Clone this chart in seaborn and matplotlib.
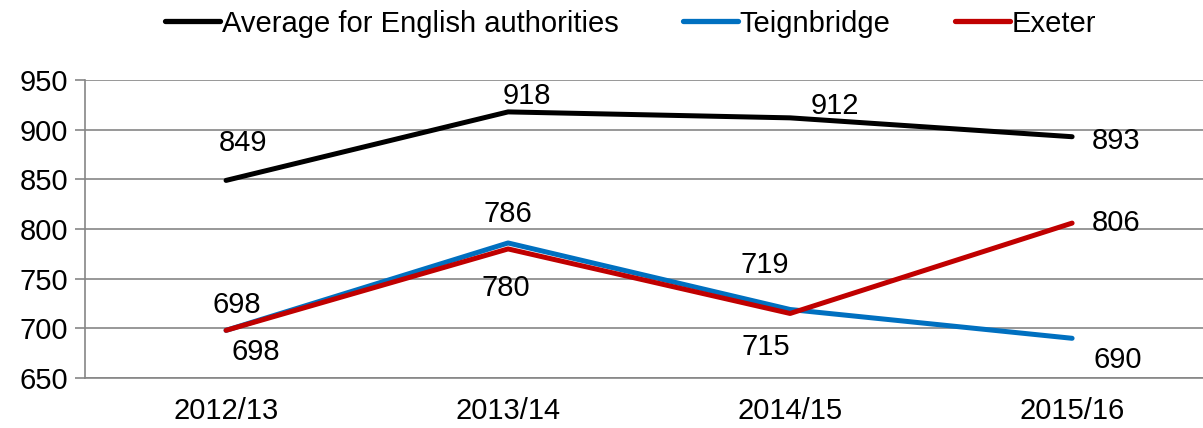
import numpy as np
import pandas as pd
import matplotlib.pyplot as plt
import seaborn as sns
from matplotlib.ticker import FixedLocator

years = ['2012/13', '2013/14', '2014/15', '2015/16']
average = [849, 918, 912, 893]
teignbridge = [698, 786, 719, 690]
exeter = [698, 780, 715, 806]
series = ['Average for English authorities', 'Teignbridge', 'Exeter']
colors = ['#000000', '#0070C0', '#C00000']

# label offsets in pixels from each point
offsets = {
    'Average for English authorities': [(17, 37), (19, 16), (45, 12), (44, -4)],
    'Teignbridge': [(11, 25), (0, 29), (-25, 44), (46, -22)],
    'Exeter': [(30, -22), (-2, -39), (-24, -34), (44, 0)],
}

df = pd.DataFrame({
    'year': years * 3,
    'value': average + teignbridge + exeter,
    'series': [s for s in series for _ in years],
})

sns.set_style('white')
plt.rcParams['font.family'] = ['Liberation Sans', 'DejaVu Sans']
plt.rcParams['text.color'] = 'black'

fig = plt.figure(figsize=(12.03, 4.28), dpi=100)
ax = fig.add_axes([0.0707, 0.1168, 0.9377, 0.696])

sns.lineplot(data=df, x='year', y='value', hue='series', hue_order=series,
             palette=colors, linewidth=3.6, sort=False, ax=ax, legend=False)

grey = '#868686'
fs = 21
ax.set_ylim(650, 950)
ax.set_yticks(np.arange(650, 951, 50))
ax.yaxis.grid(True, color=grey, linewidth=1.2)
ax.set_xlim(-0.5, 3.5)
ax.set_xticks(range(4))
ax.set_xticklabels(years)
ax.xaxis.set_minor_locator(FixedLocator([-0.5, 0.5, 1.5, 2.5]))
ax.tick_params(axis='x', which='major', length=0, pad=14, labelsize=fs, labelcolor='black')
ax.tick_params(axis='x', which='minor', length=8, color=grey, width=1.2, direction='out')
ax.tick_params(axis='y', length=7, color=grey, width=1.2, labelsize=fs, pad=5, left=True,
               labelcolor='black')
for s in ['top', 'right']:
    ax.spines[s].set_visible(False)
for s in ['left', 'bottom']:
    ax.spines[s].set_color(grey)
    ax.spines[s].set_linewidth(1.2)
ax.set_xlabel('')
ax.set_ylabel('')

vals = {'Average for English authorities': average, 'Teignbridge': teignbridge, 'Exeter': exeter}
for name in series:
    for i, v in enumerate(vals[name]):
        ax.annotate(str(v), (i, v), xytext=offsets[name][i], textcoords='offset pixels',
                    ha='center', va='center', fontsize=fs, annotation_clip=False)

handles = [plt.Line2D([], [], color=c, linewidth=3.8) for c in colors]
fig.legend(handles, series, loc='center', bbox_to_anchor=(0.524, 0.945), ncol=3,
           frameon=False, fontsize=fs, handlelength=1.9, handletextpad=0.05,
           columnspacing=2.2)

fig.savefig('out.png', dpi=100)
